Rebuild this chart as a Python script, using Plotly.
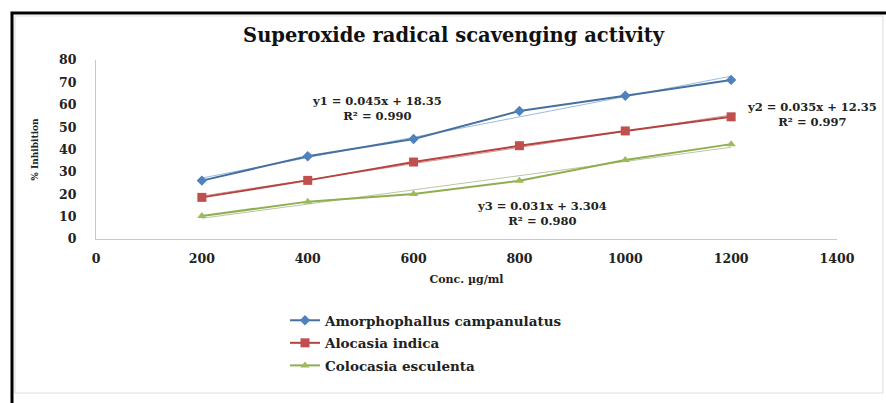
import numpy as np
import plotly.graph_objects as go

conc = [200, 400, 600, 800, 1000, 1200]
amorphophallus = [26.1, 37.0, 44.7, 57.2, 64.0, 71.1]
alocasia = [18.6, 26.2, 34.4, 41.7, 48.3, 54.6]
colocasia = [10.3, 16.7, 20.1, 26.0, 35.3, 42.4]

series_names = ["Amorphophallus campanulatus", "Alocasia indica", "Colocasia esculenta"]
eq_texts = ["y1 = 0.045x + 18.35<br>R² = 0.990",
            "y2 = 0.035x + 12.35<br>R² = 0.997",
            "y3 = 0.031x + 3.304<br>R² = 0.980"]
x_ticks = [0, 200, 400, 600, 800, 1000, 1200, 1400]
y_ticks = [0, 10, 20, 30, 40, 50, 60, 70, 80]

FONT = "DejaVu Serif, serif"
line_colors = ["#45709F", "#B34442", "#8FAE50"]
marker_colors = ["#4F81BD", "#C0504D", "#9BBB59"]
trend_colors = ["#9DBBE0", "#D99694", "#B8C9A0"]
symbols = ["diamond", "square", "triangle-up"]
msizes = [8, 9, 8]

fig = go.Figure()
for i, ys in enumerate([amorphophallus, alocasia, colocasia]):
    m, c = np.polyfit(conc, ys, 1)
    xt = np.array([conc[0], conc[-1]])
    fig.add_trace(go.Scatter(x=xt, y=m * xt + c, mode="lines",
                             line=dict(color=trend_colors[i], width=1),
                             showlegend=False, hoverinfo="skip"))
for i, ys in enumerate([amorphophallus, alocasia, colocasia]):
    fig.add_trace(go.Scatter(x=conc, y=ys, mode="lines+markers",
                             name=series_names[i],
                             legendgroup=str(i),
                             line=dict(color=line_colors[i], width=2),
                             marker=dict(symbol=symbols[i], size=msizes[i], color=marker_colors[i],
                                         line=dict(width=0))))

eq_pos = [(531, 58.3), (1353, 55.6), (843, 11.2)]
for (ex, ey), t in zip(eq_pos, eq_texts):
    fig.add_annotation(x=ex, y=ey, text=t, showarrow=False, xanchor="center", yanchor="middle",
                       font=dict(family=FONT, size=11.5, color="#222222", weight="bold"))

fig.update_layout(
    width=886, height=403,
    margin=dict(l=96, r=49, t=60, b=164),
    paper_bgcolor="white", plot_bgcolor="white",
    title=dict(text="Superoxide radical scavenging activity", x=0.512, xref="container",
               y=0.913, yref="container", xanchor="center", yanchor="middle",
               font=dict(family=FONT, size=19.5, color="#111111", weight="bold")),
    xaxis=dict(range=[0, 1400], tickvals=x_ticks, showgrid=False, zeroline=False,
               showline=True, linecolor="#C8C8C8", linewidth=1, ticks="",
               ticklabelstandoff=8,
               tickfont=dict(family=FONT, size=12.5, color="#222222", weight="bold"),
               title=dict(text="Conc. µg/ml", standoff=10,
                          font=dict(family=FONT, size=11, color="#222222", weight="bold"))),
    yaxis=dict(range=[0, 80], tickvals=y_ticks, showgrid=False, zeroline=False,
               showline=True, linecolor="#C8C8C8", linewidth=1, ticks="",
               ticklabelstandoff=16,
               tickfont=dict(family=FONT, size=12.5, color="#222222", weight="bold"),
               title=dict(text="% Inhibition", standoff=18,
                          font=dict(family=FONT, size=9, color="#222222", weight="bold"))),
    legend=dict(x=(285 - 96) / 741, y=(239 - 305) / 179, xanchor="left", yanchor="top",
                bgcolor="rgba(0,0,0,0)", tracegroupgap=2,
                font=dict(family=FONT, size=13.5, color="#222222", weight="bold")),
    showlegend=True,
)

# chart frame (outer black border + faint inner border)
fig.add_shape(type="rect", xref="paper", yref="paper",
              x0=(15 - 96) / 741, x1=(883 - 96) / 741, y0=(239 - 393) / 179, y1=(239 - 16) / 179,
              line=dict(color="#DDDDDD", width=1), layer="below")
fig.add_shape(type="rect", xref="paper", yref="paper",
              x0=(12 - 96) / 741, x1=(900 - 96) / 741, y0=(239 - 420) / 179, y1=(239 - 13) / 179,
              line=dict(color="black", width=3), layer="above")

fig.write_html("out.html")
